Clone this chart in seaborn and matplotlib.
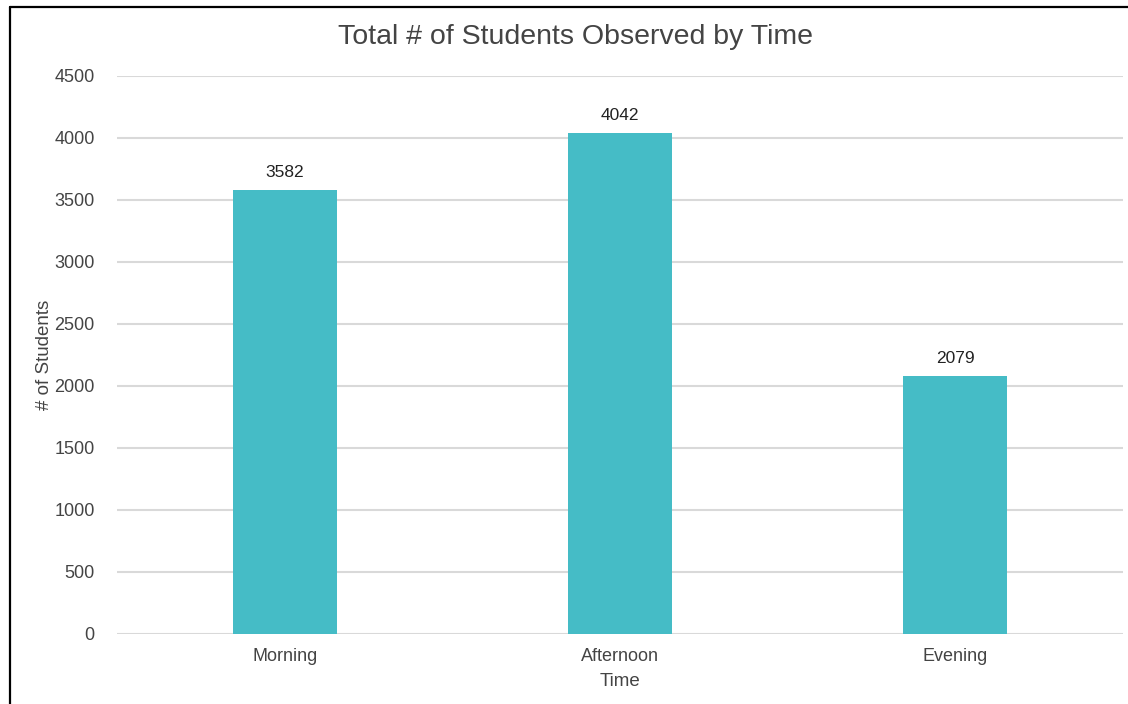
import matplotlib
matplotlib.use("Agg")
import matplotlib.pyplot as plt
from matplotlib.lines import Line2D
import seaborn as sns
import pandas as pd

categories = ["Morning", "Afternoon", "Evening"]
students = [3582, 4042, 2079]
y_ticks = [0, 500, 1000, 1500, 2000, 2500, 3000, 3500, 4000, 4500]

sns.set_theme(style="white")
plt.rcParams['font.family'] = ['Liberation Sans', 'DejaVu Sans']

df = pd.DataFrame({"Time": categories, "Students": students})

fig = plt.figure(figsize=(11.28, 7.04), dpi=100)
ax = fig.add_axes([117/1128, 1 - 634/704, (1123 - 117)/1128, (634 - 76)/704])

sns.barplot(data=df, x="Time", y="Students", color="#45bcc6", saturation=1,
            width=0.31, ax=ax, zorder=3, linewidth=0, edgecolor="none")

ax.set_ylim(0, 4500)
ax.set_xlim(-0.5, 2.5)
ax.set_yticks(y_ticks)
ax.set_yticklabels([str(t) for t in y_ticks])
ax.grid(axis="y", color="#d9d9d9", linewidth=1.5, zorder=0)
ax.grid(axis="x", visible=False)
for s in ax.spines.values():
    s.set_visible(False)
ax.tick_params(axis="both", length=0, labelsize=13, labelcolor="#444444")
ax.tick_params(axis="y", pad=16)
ax.tick_params(axis="x", pad=10)

for c in ax.containers:
    ax.bar_label(c, labels=[str(v) for v in students], padding=7,
                 fontsize=12.5, color="#222222")

ax.set_xlabel("Time", fontsize=13.5, color="#444444", labelpad=6)
ax.set_ylabel("# of Students", fontsize=13.5, color="#444444", labelpad=1)
fig.text(575/1128, 1 - 37/704, "Total # of Students Observed by Time",
         ha="center", va="center", fontsize=20.5, color="#444444")

# black frame lines (top and left) as in reference
fig.add_artist(Line2D([10/1128, 1], [1 - 7/704, 1 - 7/704], color="black",
                      linewidth=1.6, transform=fig.transFigure))
fig.add_artist(Line2D([10/1128, 10/1128], [0, 1 - 7/704], color="black",
                      linewidth=1.6, transform=fig.transFigure))

fig.savefig("out.png", dpi=100, facecolor="white")
